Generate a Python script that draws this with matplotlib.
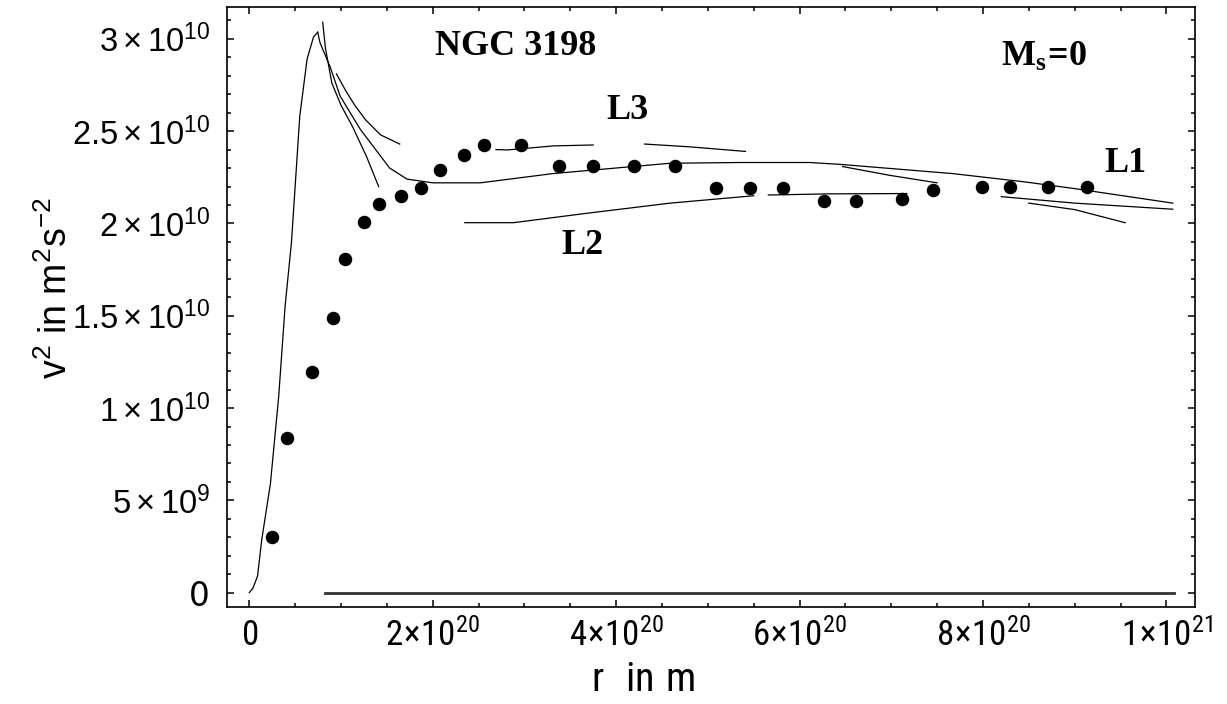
import numpy as np
import matplotlib
matplotlib.use("Agg")
import matplotlib.pyplot as plt

plt.rcParams['mathtext.fontset'] = 'custom'
plt.rcParams['mathtext.rm'] = 'Liberation Sans'
plt.rcParams['mathtext.it'] = 'Liberation Sans:italic'
plt.rcParams['mathtext.sf'] = 'Roboto Condensed'
plt.rcParams['mathtext.bf'] = 'Liberation Serif:bold'

R = 1e20   # r unit (m)
V = 1e9    # v^2 unit (m^2 s^-2)

# observed rotation data (dots)
r_obs = [0.25, 0.41, 0.68, 0.91, 1.04, 1.25, 1.41, 1.65, 1.87, 2.08, 2.34, 2.56, 2.96, 3.38,
         3.75, 4.20, 4.64, 5.09, 5.46, 5.82, 6.27, 6.62, 7.12, 7.46, 7.99, 8.30, 8.71, 9.13]
v_obs = [3.0, 8.4, 11.95, 14.9, 18.05, 20.1, 21.05, 21.5, 21.9, 22.9, 23.7, 24.25, 24.25, 23.1,
         23.1, 23.1, 23.1, 21.9, 21.9, 21.9, 21.2, 21.2, 21.35, 21.8, 22.0, 22.0, 22.0, 22.0]

# model curves
rise_r = [0, 0.04, 0.09, 0.135, 0.23, 0.32, 0.39, 0.46, 0.55, 0.63, 0.70, 0.746]
rise_v = [0, 0.25, 0.9, 2.85, 5.9, 10.6, 15.5, 19.0, 25.8, 28.9, 30.1, 30.36]

l1_r = [0.746, 0.77, 0.88, 0.99, 1.21, 1.53, 1.72, 2.0, 2.52, 3.31, 4.59, 5.35, 6.11, 6.44,
        7.67, 8.44, 8.98, 10.07]
l1_v = [30.36, 29.8, 28.5, 26.9, 25.1, 23.0, 22.4, 22.2, 22.2, 22.7, 23.26, 23.3, 23.3, 23.2,
        22.7, 22.26, 21.9, 21.1]

b_r = [0.80, 0.83, 0.90, 1.0, 1.13, 1.28, 1.41]
b_v = [30.9, 29.5, 27.6, 26.4, 25.2, 23.6, 22.0]

c_r = [0.95, 1.05, 1.15, 1.27, 1.43, 1.64]
c_v = [28.1, 27.2, 26.4, 25.6, 24.8, 24.3]

l3a_r = [2.69, 2.81, 3.32, 3.75]
l3a_v = [24.0, 23.98, 24.2, 24.25]
l3b_r = [4.31, 4.8, 5.41]
l3b_v = [24.3, 24.15, 23.9]

d_r = [6.47, 6.99, 7.5]
d_v = [23.08, 22.6, 22.2]

l2a_r = [2.35, 2.88, 3.68, 4.59, 5.5]
l2a_v = [20.04, 20.04, 20.55, 21.1, 21.5]
l2b_r = [5.66, 6.3, 7.17]
l2b_v = [21.54, 21.6, 21.62]
l2c_r = [8.2, 9.0, 10.07]
l2c_v = [21.45, 21.1, 20.77]
l2d_r = [8.5, 9.0, 9.55]
l2d_v = [21.1, 20.75, 20.04]

zero_r = [0.83, 10.08]
zero_v = [0, 0]

xticks = [0, 2, 4, 6, 8, 10]
xtick_labels = [r'$\mathsf{0}$', r'$\mathsf{2\!\times\!10^{20}}$', r'$\mathsf{4\!\times\!10^{20}}$',
                r'$\mathsf{6\!\times\!10^{20}}$', r'$\mathsf{8\!\times\!10^{20}}$',
                r'$\mathsf{1\!\times\!10^{21}}$']
yticks = [0, 5, 10, 15, 20, 25, 30]
ytick_labels = ['0', r'$5\times10^{9}$', r'$1\times10^{10}$', r'$1.5\times10^{10}$',
                r'$2\times10^{10}$', r'$2.5\times10^{10}$', r'$3\times10^{10}$']

fig = plt.figure(figsize=(12.27, 7.04), dpi=100)
ax = fig.add_axes([0.1848, 0.1382, 0.7894, 0.8523])

curves = [(rise_r, rise_v), (l1_r, l1_v), (b_r, b_v), (c_r, c_v), (l3a_r, l3a_v),
          (l3b_r, l3b_v), (d_r, d_v), (l2a_r, l2a_v), (l2b_r, l2b_v), (l2c_r, l2c_v),
          (l2d_r, l2d_v)]
for cr, cv in curves:
    ax.plot(np.array(cr) * R, np.array(cv) * V, color='black', lw=0.9)

ax.plot(np.array(zero_r) * R, np.array(zero_v) * V, color='#333333', lw=2.0)
ax.plot(np.array(r_obs) * R, np.array(v_obs) * V, 'o', color='black', ms=8.7)

ax.set_xlim(-0.246 * R, 10.316 * R)
ax.set_ylim(-0.76 * V, 31.74 * V)

ax.set_xticks(np.array(xticks) * R)
ax.set_xticklabels(xtick_labels, fontsize=25)
ax.set_xticks(np.arange(0, 10.3, 0.5) * R, minor=True)
ax.set_yticks(np.array(yticks) * V)
ax.set_yticklabels(ytick_labels, fontsize=23.5)
ax.set_yticks(np.arange(0, 31.5, 1) * V, minor=True)

ax.tick_params(which='both', direction='in', top=True, right=True, width=1.1)
ax.tick_params(which='major', length=5)
ax.tick_params(which='minor', length=3)
ax.tick_params(axis='x', pad=8)
ax.tick_params(axis='y', pad=12)
for s in ax.spines.values():
    s.set_linewidth(1.2)

ax.set_xlabel(r'$\mathsf{r\ \ in\ m}$', fontsize=29)
ax.xaxis.set_label_coords(0.43, -0.088)
ax.set_ylabel(r'v$^2$ in m$^2$s$^{-2}$', fontsize=27, fontfamily='Liberation Sans',
              va='center', ha='center')
ax.yaxis.set_label_coords(-0.176, 0.531)

tfont = dict(family='Liberation Serif', weight='bold', fontsize=26, color='black')
ax.text(2.91 * R, 29.6 * V, 'NGC 3198', ha='center', va='center', **tfont)
ax.text(4.12 * R, 26.1 * V, 'L3', ha='center', va='center', **tfont)
ax.text(9.55 * R, 23.27 * V, 'L1', ha='center', va='center', **tfont)
ax.text(3.63 * R, 18.78 * V, 'L2', ha='center', va='center', **tfont)
ax.text(8.2 * R, 29.07 * V, r'$\mathbf{M_s\!=\!0}$', ha='left', va='center',
        fontsize=26, color='black')

fig.savefig('out.png', dpi=100)
